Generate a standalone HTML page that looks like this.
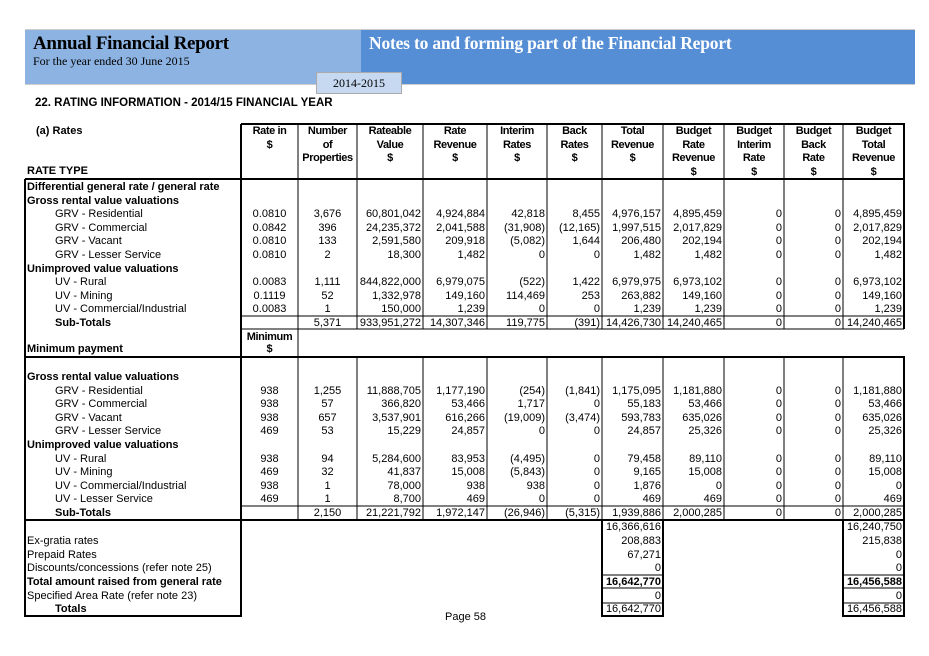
<!DOCTYPE html>
<html><head><meta charset="utf-8"><style>
body{margin:0;width:929px;height:656px;background:#fff;position:relative;overflow:hidden;font-family:"Liberation Sans",Arial,sans-serif;font-size:11px;color:#000}
.abs{position:absolute}
.r{position:absolute;left:0;width:929px;height:14px;line-height:14px;white-space:nowrap}
.r span{position:absolute;top:0}
.h{left:27px;font-weight:bold;letter-spacing:-0.05px}
.i{left:55px}
.ib{left:55px;font-weight:bold}
.l{left:27px}
.c1{left:241px;width:57px;text-align:center}
.c2{left:298px;width:59px;text-align:center}
.c3{left:357px;width:64px;text-align:right}
.c4{left:423px;width:62px;text-align:right}
.c5{left:487px;width:58px;text-align:right}
.c6{left:547px;width:53px;text-align:right}
.c7{left:602px;width:59px;text-align:right}
.c8{left:663px;width:59px;text-align:right}
.c9{left:724px;width:58px;text-align:right}
.c10{left:784px;width:57px;text-align:right}
.c11{left:843px;width:59px;text-align:right}
.hd{position:absolute;top:125px;line-height:13.5px;text-align:center;font-weight:bold;letter-spacing:-0.4px}
b{font-weight:bold}
</style></head><body>
<div class="abs" style="left:25px;top:29px;width:890px;height:54px;background:#558ed5;border-top:1px solid #ccc;border-bottom:1px solid #ccc"></div>
<div class="abs" style="left:25px;top:29px;width:336px;height:54px;background:#8db3e2;border-top:1px solid #ccc;border-bottom:1px solid #ccc"></div>
<div class="abs" style="left:316px;top:72px;width:84px;height:20px;background:#c6d9f1;border:1px solid #aaa;text-align:center;line-height:20px;font-family:'Liberation Serif',serif;font-size:12px">2014-2015</div>
<div class="abs" style="left:33px;top:33px;font-family:'Liberation Serif',serif;font-weight:bold;font-size:19px;letter-spacing:-0.3px">Annual Financial Report</div>
<div class="abs" style="left:33px;top:54px;font-family:'Liberation Serif',serif;font-size:12px">For the year ended 30 June 2015</div>
<div class="abs" style="left:369px;top:33px;font-family:'Liberation Serif',serif;font-weight:bold;font-size:17.5px;color:#fff;letter-spacing:-0.2px">Notes to and forming part of the Financial Report</div>
<div class="abs" style="left:35px;top:97px;font-weight:bold;font-size:11.5px">22. RATING INFORMATION - 2014/15 FINANCIAL YEAR</div>
<div class="abs" style="left:36px;top:125px;font-weight:bold;line-height:13.5px">(a) Rates</div>
<div class="abs" style="left:27px;top:165px;font-weight:bold;line-height:13.5px">RATE TYPE</div>
<div class="hd" style="left:241px;width:57px">Rate in<br>$</div>
<div class="hd" style="left:298px;width:59px">Number<br>of<br>Properties</div>
<div class="hd" style="left:357px;width:66px">Rateable<br>Value<br>$</div>
<div class="hd" style="left:423px;width:64px">Rate<br>Revenue<br>$</div>
<div class="hd" style="left:487px;width:60px">Interim<br>Rates<br>$</div>
<div class="hd" style="left:547px;width:55px">Back<br>Rates<br>$</div>
<div class="hd" style="left:602px;width:61px">Total<br>Revenue<br>$</div>
<div class="hd" style="left:663px;width:61px">Budget<br>Rate<br>Revenue<br>$</div>
<div class="hd" style="left:724px;width:60px">Budget<br>Interim<br>Rate<br>$</div>
<div class="hd" style="left:784px;width:59px">Budget<br>Back<br>Rate<br>$</div>
<div class="hd" style="left:843px;width:61px">Budget<br>Total<br>Revenue<br>$</div>
<div class="r" style="top:180px"><span class="h">Differential general rate / general rate</span></div>
<div class="r" style="top:193.6px"><span class="h">Gross rental value valuations</span></div>
<div class="r" style="top:207.2px"><span class="i">GRV - Residential</span><span class="c1">0.0810</span><span class="c2">3,676</span><span class="c3">60,801,042</span><span class="c4">4,924,884</span><span class="c5">42,818</span><span class="c6">8,455</span><span class="c7">4,976,157</span><span class="c8">4,895,459</span><span class="c9">0</span><span class="c10">0</span><span class="c11">4,895,459</span></div>
<div class="r" style="top:220.8px"><span class="i">GRV - Commercial</span><span class="c1">0.0842</span><span class="c2">396</span><span class="c3">24,235,372</span><span class="c4">2,041,588</span><span class="c5">(31,908)</span><span class="c6">(12,165)</span><span class="c7">1,997,515</span><span class="c8">2,017,829</span><span class="c9">0</span><span class="c10">0</span><span class="c11">2,017,829</span></div>
<div class="r" style="top:234.4px"><span class="i">GRV - Vacant</span><span class="c1">0.0810</span><span class="c2">133</span><span class="c3">2,591,580</span><span class="c4">209,918</span><span class="c5">(5,082)</span><span class="c6">1,644</span><span class="c7">206,480</span><span class="c8">202,194</span><span class="c9">0</span><span class="c10">0</span><span class="c11">202,194</span></div>
<div class="r" style="top:248px"><span class="i">GRV - Lesser Service</span><span class="c1">0.0810</span><span class="c2">2</span><span class="c3">18,300</span><span class="c4">1,482</span><span class="c5">0</span><span class="c6">0</span><span class="c7">1,482</span><span class="c8">1,482</span><span class="c9">0</span><span class="c10">0</span><span class="c11">1,482</span></div>
<div class="r" style="top:261.6px"><span class="h">Unimproved value valuations</span></div>
<div class="r" style="top:275.2px"><span class="i">UV - Rural</span><span class="c1">0.0083</span><span class="c2">1,111</span><span class="c3">844,822,000</span><span class="c4">6,979,075</span><span class="c5">(522)</span><span class="c6">1,422</span><span class="c7">6,979,975</span><span class="c8">6,973,102</span><span class="c9">0</span><span class="c10">0</span><span class="c11">6,973,102</span></div>
<div class="r" style="top:288.8px"><span class="i">UV - Mining</span><span class="c1">0.1119</span><span class="c2">52</span><span class="c3">1,332,978</span><span class="c4">149,160</span><span class="c5">114,469</span><span class="c6">253</span><span class="c7">263,882</span><span class="c8">149,160</span><span class="c9">0</span><span class="c10">0</span><span class="c11">149,160</span></div>
<div class="r" style="top:302.4px"><span class="i">UV - Commercial/Industrial</span><span class="c1">0.0083</span><span class="c2">1</span><span class="c3">150,000</span><span class="c4">1,239</span><span class="c5">0</span><span class="c6">0</span><span class="c7">1,239</span><span class="c8">1,239</span><span class="c9">0</span><span class="c10">0</span><span class="c11">1,239</span></div>
<div class="r" style="top:316px"><span class="ib">Sub-Totals</span><span class="c2">5,371</span><span class="c3">933,951,272</span><span class="c4">14,307,346</span><span class="c5">119,775</span><span class="c6">(391)</span><span class="c7">14,426,730</span><span class="c8">14,240,465</span><span class="c9">0</span><span class="c10">0</span><span class="c11">14,240,465</span></div>
<div class="r" style="top:330px"><span class="c1" style="font-weight:bold;letter-spacing:-0.4px">Minimum</span></div>
<div class="r" style="top:342px"><span class="h">Minimum payment</span><span class="c1" style="font-weight:bold">$</span></div>
<div class="r" style="top:370px"><span class="h">Gross rental value valuations</span></div>
<div class="r" style="top:383.6px"><span class="i">GRV - Residential</span><span class="c1">938</span><span class="c2">1,255</span><span class="c3">11,888,705</span><span class="c4">1,177,190</span><span class="c5">(254)</span><span class="c6">(1,841)</span><span class="c7">1,175,095</span><span class="c8">1,181,880</span><span class="c9">0</span><span class="c10">0</span><span class="c11">1,181,880</span></div>
<div class="r" style="top:397.2px"><span class="i">GRV - Commercial</span><span class="c1">938</span><span class="c2">57</span><span class="c3">366,820</span><span class="c4">53,466</span><span class="c5">1,717</span><span class="c6">0</span><span class="c7">55,183</span><span class="c8">53,466</span><span class="c9">0</span><span class="c10">0</span><span class="c11">53,466</span></div>
<div class="r" style="top:410.8px"><span class="i">GRV - Vacant</span><span class="c1">938</span><span class="c2">657</span><span class="c3">3,537,901</span><span class="c4">616,266</span><span class="c5">(19,009)</span><span class="c6">(3,474)</span><span class="c7">593,783</span><span class="c8">635,026</span><span class="c9">0</span><span class="c10">0</span><span class="c11">635,026</span></div>
<div class="r" style="top:424.4px"><span class="i">GRV - Lesser Service</span><span class="c1">469</span><span class="c2">53</span><span class="c3">15,229</span><span class="c4">24,857</span><span class="c5">0</span><span class="c6">0</span><span class="c7">24,857</span><span class="c8">25,326</span><span class="c9">0</span><span class="c10">0</span><span class="c11">25,326</span></div>
<div class="r" style="top:438px"><span class="h">Unimproved value valuations</span></div>
<div class="r" style="top:451.6px"><span class="i">UV - Rural</span><span class="c1">938</span><span class="c2">94</span><span class="c3">5,284,600</span><span class="c4">83,953</span><span class="c5">(4,495)</span><span class="c6">0</span><span class="c7">79,458</span><span class="c8">89,110</span><span class="c9">0</span><span class="c10">0</span><span class="c11">89,110</span></div>
<div class="r" style="top:465.2px"><span class="i">UV - Mining</span><span class="c1">469</span><span class="c2">32</span><span class="c3">41,837</span><span class="c4">15,008</span><span class="c5">(5,843)</span><span class="c6">0</span><span class="c7">9,165</span><span class="c8">15,008</span><span class="c9">0</span><span class="c10">0</span><span class="c11">15,008</span></div>
<div class="r" style="top:478.8px"><span class="i">UV - Commercial/Industrial</span><span class="c1">938</span><span class="c2">1</span><span class="c3">78,000</span><span class="c4">938</span><span class="c5">938</span><span class="c6">0</span><span class="c7">1,876</span><span class="c8">0</span><span class="c9">0</span><span class="c10">0</span><span class="c11">0</span></div>
<div class="r" style="top:492.4px"><span class="i">UV - Lesser Service</span><span class="c1">469</span><span class="c2">1</span><span class="c3">8,700</span><span class="c4">469</span><span class="c5">0</span><span class="c6">0</span><span class="c7">469</span><span class="c8">469</span><span class="c9">0</span><span class="c10">0</span><span class="c11">469</span></div>
<div class="r" style="top:506px"><span class="ib">Sub-Totals</span><span class="c2">2,150</span><span class="c3">21,221,792</span><span class="c4">1,972,147</span><span class="c5">(26,946)</span><span class="c6">(5,315)</span><span class="c7">1,939,886</span><span class="c8">2,000,285</span><span class="c9">0</span><span class="c10">0</span><span class="c11">2,000,285</span></div>
<div class="r" style="top:520px"><span class="c7">16,366,616</span><span class="c11">16,240,750</span></div>
<div class="r" style="top:534px"><span class="l">Ex-gratia rates</span><span class="c7">208,883</span><span class="c11">215,838</span></div>
<div class="r" style="top:547.5px"><span class="l">Prepaid Rates</span><span class="c7">67,271</span><span class="c11">0</span></div>
<div class="r" style="top:561px"><span class="l">Discounts/concessions (refer note 25)</span><span class="c7">0</span><span class="c11">0</span></div>
<div class="r" style="top:575px"><span class="h">Total amount raised from general rate</span><span class="c7"><b>16,642,770</b></span><span class="c11"><b>16,456,588</b></span></div>
<div class="r" style="top:588.5px"><span class="l">Specified Area Rate (refer note 23)</span><span class="c7">0</span><span class="c11">0</span></div>
<div class="r" style="top:602px"><span class="ib">Totals</span><span class="c7">16,642,770</span><span class="c11">16,456,588</span></div>
<div class="abs" style="left:445px;top:610px;line-height:14px">Page 58</div>
<svg class="abs" style="left:0;top:0" width="929" height="656" stroke="#000" fill="none" shape-rendering="crispEdges">
<g stroke-width="2">
<line x1="241" y1="124" x2="905" y2="124"/>
<line x1="25" y1="179" x2="905" y2="179"/>
<line x1="904" y1="124" x2="904" y2="329"/>
<line x1="25" y1="179" x2="25" y2="617"/>
<line x1="25" y1="357" x2="905" y2="357"/>
<line x1="904" y1="357" x2="904" y2="520"/>
<line x1="25" y1="520" x2="905" y2="520"/>
<line x1="241" y1="124" x2="241" y2="617"/>
<line x1="25" y1="616" x2="241" y2="616"/>
<line x1="602" y1="520" x2="602" y2="617"/><line x1="663" y1="520" x2="663" y2="617"/>
<line x1="843" y1="520" x2="843" y2="617"/><line x1="904" y1="520" x2="904" y2="617"/>
<line x1="602" y1="616" x2="663" y2="616"/><line x1="843" y1="616" x2="904" y2="616"/>
</g>
<g stroke-width="1">
<line x1="298" y1="124" x2="298" y2="357"/>
<line x1="357" y1="124" x2="357" y2="329"/><line x1="423" y1="124" x2="423" y2="329"/>
<line x1="487" y1="124" x2="487" y2="329"/><line x1="547" y1="124" x2="547" y2="329"/>
<line x1="602" y1="124" x2="602" y2="329"/><line x1="663" y1="124" x2="663" y2="329"/>
<line x1="724" y1="124" x2="724" y2="329"/><line x1="784" y1="124" x2="784" y2="329"/>
<line x1="843" y1="124" x2="843" y2="329"/>
<line x1="241" y1="316" x2="904" y2="316"/><line x1="241" y1="329" x2="904" y2="329"/>
<line x1="298" y1="357" x2="298" y2="520"/>
<line x1="357" y1="357" x2="357" y2="520"/><line x1="423" y1="357" x2="423" y2="520"/>
<line x1="487" y1="357" x2="487" y2="520"/><line x1="547" y1="357" x2="547" y2="520"/>
<line x1="602" y1="357" x2="602" y2="520"/><line x1="663" y1="357" x2="663" y2="520"/>
<line x1="724" y1="357" x2="724" y2="520"/><line x1="784" y1="357" x2="784" y2="520"/>
<line x1="843" y1="357" x2="843" y2="520"/>
<line x1="241" y1="506" x2="904" y2="506"/>
<line x1="602" y1="575" x2="663" y2="575"/><line x1="602" y1="588" x2="663" y2="588"/><line x1="602" y1="603" x2="663" y2="603"/>
<line x1="843" y1="575" x2="904" y2="575"/><line x1="843" y1="588" x2="904" y2="588"/><line x1="843" y1="603" x2="904" y2="603"/>
</g>
</svg>
</body></html>
